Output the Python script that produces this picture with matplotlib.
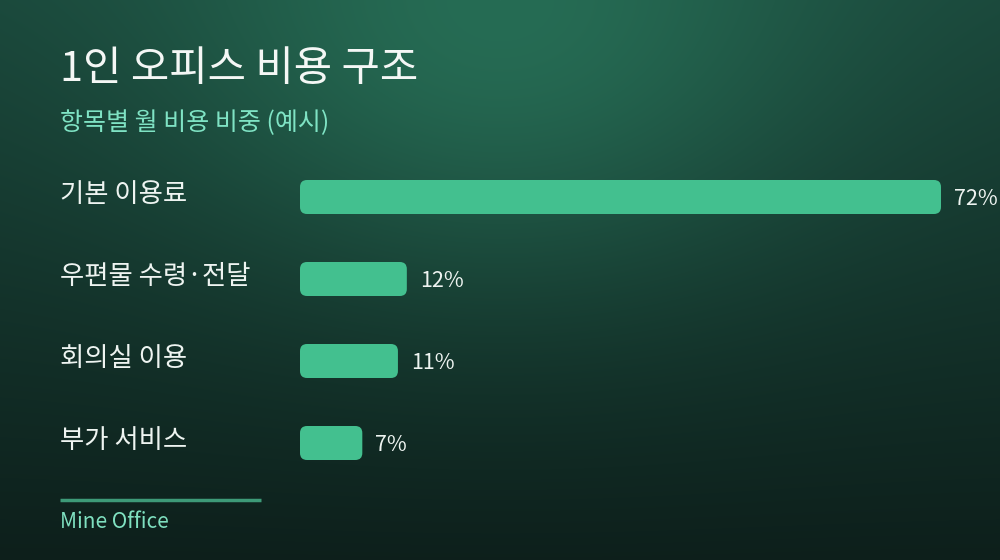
import numpy as np
import matplotlib.pyplot as plt
from matplotlib.patches import FancyBboxPatch
from matplotlib.transforms import blended_transform_factory

plt.rcParams['font.family'] = ['Noto Sans CJK KR', 'DejaVu Sans']

# 데이터
categories = ['기본 이용료', '우편물 수령·전달', '회의실 이용', '부가 서비스']
shares = [72, 12, 11, 7]
value_labels = ['72%', '12%', '11%', '7%']

title = '1인 오피스 비용 구조'
subtitle = '항목별 월 비용 비중 (예시)'
footer = 'Mine Office'

W, H = 1000, 560
fig = plt.figure(figsize=(W / 100, H / 100), dpi=100)

# 배경 그라데이션
bg = fig.add_axes([0, 0, 1, 1])
yy, xx = np.mgrid[0:H, 0:W]
top = np.array([0x1a, 0x46, 0x3a]) / 255
bottom = np.array([0x0d, 0x1f, 0x1b]) / 255
t = (yy / H)[..., None]
img = top * (1 - t) + bottom * t
glow = np.exp(-(((xx - 500) / 330) ** 2 + (yy / 260) ** 2))[..., None]
glow_col = np.array([0x26, 0x6c, 0x54]) / 255
img = img * (1 - glow) + glow_col * glow
bg.imshow(img, extent=[0, W, H, 0], aspect='auto')
bg.set_xlim(0, W)
bg.set_ylim(H, 0)
bg.axis('off')

# 막대 영역 (x: 300px~941px = 0~72)
x0, x1 = 300, 941
first_y, step = 197, 82
ax = fig.add_axes([x0 / W, 0, (x1 - x0) / W, 1])
ax.set_xlim(0, max(shares))
ax.set_ylim((H - first_y) / step, -first_y / step)
ax.axis('off')
ax.patch.set_alpha(0)

px_x = max(shares) / (x1 - x0)
px_y = 1 / step
bar_h = 34 * px_y
r = 7 * px_x
for i, v in enumerate(shares):
    box = FancyBboxPatch((0, i - bar_h / 2), v, bar_h,
                         boxstyle=f'round,pad=0,rounding_size={r}',
                         mutation_aspect=px_y / px_x,
                         fc='#43c08f', ec='none')
    ax.add_patch(box)
    ax.annotate(value_labels[i], (v, i), xytext=(13, -2), textcoords='offset pixels',
                ha='left', va='center', color='#eef4f1', fontsize=15.5, clip_on=False)

trans = blended_transform_factory(fig.transFigure, ax.transData)
for i, c in enumerate(categories):
    ax.text(60 / W, i - 0.03, c, transform=trans, ha='left', va='center',
            color='#eef4f1', fontsize=19)

# 제목
fig.text(60 / W, 1 - 70 / H, title, ha='left', va='center', color='#f4f7f5', fontsize=30)
fig.text(60 / W, 1 - 123 / H, subtitle, ha='left', va='center', color='#7fe3c4', fontsize=18)

# 하단
bg.plot([60, 261], [500, 500], color='#3d9a78', lw=2.5, solid_capstyle='butt')
fig.text(60 / W, 1 - 522 / H, footer, ha='left', va='center', color='#7fe0c0', fontsize=15)

fig.savefig('out.png', dpi=100)
